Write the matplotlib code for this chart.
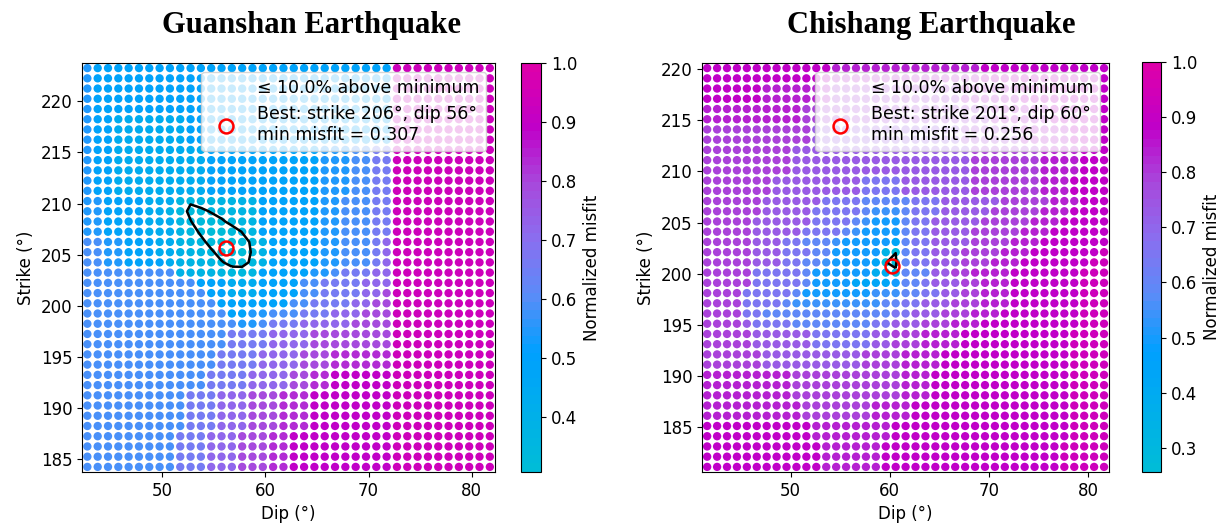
"""Grid-search misfit maps (strike vs dip) for the Guanshan and Chishang earthquakes."""

import numpy as np
import matplotlib

matplotlib.use("Agg")
import matplotlib.pyplot as plt
from matplotlib.colors import LinearSegmentedColormap, Normalize
from matplotlib.lines import Line2D

plt.rcParams["font.family"] = ["DejaVu Sans"]

# colour classes -> normalized misfit value
LEVELS = {
    "Z": 0.258, "Y": 0.284, "X": 0.300,
    "z": 0.312, "y": 0.328, "x": 0.345,
    "c": 0.38, "d": 0.43, "a": 0.49, "b": 0.54, "k": 0.59, "l": 0.655,
    "v": 0.725, "p": 0.785, "o": 0.84, "m": 0.89, "n": 0.93,
}

THRESHOLD = 0.10

# ---- Guanshan: 40 dips x 40 strikes, rows listed from the top strike down
GUANSHAN_DIPS = 42.75 + np.arange(40)
GUANSHAN_STRIKES = 223.25 - np.arange(40)
GUANSHAN_ROWS = [
    "baaaaaaaaa" "aaaaaaaaaa" "aaaaaaaaaa" "nnnnnnnnnn",
    "baaaaaaaaa" "aaaaaaaaaa" "aaaaaaaaaa" "nnnnnnnnnn",
    "baaaaaaaaa" "aaaaaaaaaa" "aaaaaaaaaa" "nnnnnnnnnn",
    "baaaaaaaaa" "aaaaaaaaaa" "aaaaaaaaaa" "nnnnnnnnnn",
    "baaaaaaaaa" "aaaaaaaaaa" "aaaaaaaaaa" "nnnnnnnnnn",
    "baaddddddd" "aaaaaaaaaa" "aaaaaaaaaa" "nnnnnnnnnn",
    "baaddddddd" "aaaaaaaaaa" "aaaaaaaaaa" "nnnnnnnnnn",
    "baaddddddd" "aaaaaaaaaa" "aaaaaaaaaa" "nnnnnnnnnn",
    "baaddddddd" "ddaaaaaaaa" "aaabbbkkll" "nnnnnnnnnn",
    "baaddddddd" "ddaaaaaaaa" "aaabbbkkll" "nnnnnnnnnn",
    "baaddddddd" "ddaaaaaaaa" "aaabbbkkll" "nnnnnnnnnn",
    "baaddddddd" "ddaaaaaaaa" "aaabbbkkll" "nnnnnnnnnn",
    "baaddddddd" "ddaaaaaaaa" "aaabbbkkll" "nnnnnnnnnn",
    "bbaaaadddd" "xccccccaaa" "aaabbkkkll" "nnnnnnnnnn",
    "bbaaaaddcx" "yyyxcccaaa" "aaabbkkkll" "nnnnnnnnnn",
    "bbaaaadddc" "xyyyxccaaa" "aaabbkkkll" "nnnnnnnnnn",
    "bbaaaadddc" "cyyyyxcaaa" "aaabbkkkll" "nnnnnnnnnn",
    "kkbbaaaddd" "ccxzzyxcaa" "aaabbkkklv" "nnnnnnnnnn",
    "kkbbaaaddd" "dccyzyxcaa" "aaabbkkklv" "nnnnnnnnnn",
    "kkbbaaaadd" "adccyyxcaa" "aaabbkkklv" "nnnnnnnnnn",
    "kkkkkkkkkk" "aaadxxcaaa" "aabbklllvv" "nnnnnnnnnn",
    "kkkkkkkkkk" "kaaadddaaa" "akkllllvvv" "nnnnnnnnnn",
    "kkkkkkkkkk" "kkaadddaaa" "akkllllvvp" "nnnnnnnnnn",
    "kkkkkkkkkk" "kkkaaaaaaa" "kkllllvvpp" "nnnnnnnnnn",
    "kkkkkkkkkk" "kkkkaabbkk" "klllvvvppp" "nnnnnnnnnn",
    "kkkkkkkkkk" "kkkkkbbkll" "lvvvvvpppp" "nnnnnnnnnn",
    "kkkkkkkkkk" "kkkkllllvv" "vvpppppppp" "nnnnnnnnnn",
    "kkkkkkkkkk" "kkkkllllvv" "vvpppppppp" "nnnnnnnnnn",
    "kkkkkkkkkk" "kkkllllvvv" "vpppoooooo" "nnnnnnnnnn",
    "kkkkkkkkkk" "kkkllllvvv" "vpppoooooo" "nnnnnnnnnn",
    "kkkkkkkkkk" "kkllllvvvv" "ppoommmmmm" "nnnnnnnnnn",
    "kkkkkkkkkk" "kkllllvvvv" "ppoommmmmm" "nnnnnnnnnn",
    "kkkkkkkkkk" "lllvvvpppo" "oommmmmmmm" "nnnnnnnnnn",
    "kkkkkkkkkk" "lllvvvpppo" "oommmmmmmm" "nnnnnnnnnn",
    "kkkkkkkkkk" "lllvvvpppo" "oommmmmmmm" "nnnnnnnnnn",
    "kkkkkkkkkk" "lllvvvpppo" "oommmmmmmm" "nnnnnnnnnn",
    "kkkkkkkkkl" "llvvvpppoo" "mmmmmmmmmm" "nnnnnnnnnn",
    "kkkkkkkkkl" "llvvvpppoo" "mmmmmmmmmm" "nnnnnnnnnn",
    "kkkkkkkkkl" "llvvvpppoo" "mmmmmmmmmm" "nnnnnnnnnn",
    "kkkkkkkkkl" "llvvvpppoo" "mmmmmmmmmm" "nnnnnnnnnn",
]
# finer values around the minimum (rows 13-20, columns 9-16 of the grid above)
GUANSHAN_MIN_BLOCK_ORIGIN = (13, 9)
GUANSHAN_MIN_BLOCK = [
    [0.362, 0.341, 0.351, 0.360, 0.366, 0.373, 0.380, 0.386],
    [0.350, 0.331, 0.331, 0.340, 0.352, 0.360, 0.368, 0.377],
    [0.357, 0.339, 0.322, 0.324, 0.332, 0.348, 0.360, 0.371],
    [0.368, 0.350, 0.333, 0.318, 0.316, 0.322, 0.339, 0.357],
    [0.377, 0.360, 0.345, 0.329, 0.314, 0.309, 0.326, 0.343],
    [0.382, 0.368, 0.360, 0.342, 0.327, 0.311, 0.321, 0.341],
    [0.386, 0.377, 0.366, 0.357, 0.340, 0.329, 0.329, 0.343],
    [0.393, 0.382, 0.373, 0.366, 0.355, 0.350, 0.349, 0.355],
]
GUANSHAN_BEST = (56.2, 205.7)
GUANSHAN_BEST_LABEL = (206, 56)
GUANSHAN_MIN = 0.307

# ---- Chishang: 41 dips x 40 strikes, rows listed from the top strike down
CHISHANG_DIPS = 41.6 + np.arange(41)
CHISHANG_STRIKES = 220.1 - np.arange(40)
CHISHANG_ROWS = [
    "mmmmmmmmmm" "mmmooooooo" "oooooooomm" "mmmmmmmmmm" "m",
    "mmmmmmmmmm" "mmmooooooo" "oooooooomm" "mmmmmmmmmm" "m",
    "mmmmmmoooo" "oooppppppp" "ppppppoooo" "oommmmmmmm" "m",
    "mmmmmmoooo" "oooppppppp" "ppppppoooo" "oommmmmmmm" "m",
    "oooooooooo" "pppppppppp" "pppppppppo" "ooooommmmm" "m",
    "oooooooooo" "pppppppppp" "pppppppppo" "ooooommmmm" "m",
    "pppppppppp" "pvvvvvvvvv" "vvvvvvpppp" "ppooooommm" "m",
    "pppppppppp" "pvvvvvvvvv" "vvvvvvpppp" "ppooooommm" "m",
    "pppppppppv" "vvvvvvvvvv" "vvvvvvvppp" "ppppoooomm" "m",
    "pppppppppv" "vvvvvvvvvv" "vvvvvvvppp" "ppppoooomm" "m",
    "pppppppppv" "vvvvvvvvvv" "vvvvvvvppp" "ppppoooomm" "m",
    "pppppppvvv" "vvvvvvllll" "vvvvvvvppp" "ppppooommm" "m",
    "pppppppvvv" "vvvvvvllll" "vvvvvvvppp" "ppppooommm" "m",
    "ppppppvvvv" "vvllllkkkk" "klllvvvvvv" "pppppooomm" "m",
    "ppppppvvvv" "vlllllkbbb" "klllvvvvvp" "ppppooommm" "m",
    "pppppvvvvv" "vllllkbaaa" "kllvvvvvpp" "pppooommmm" "m",
    "pppppvvvvv" "llllkbaaaa" "kllvvvvppp" "ppooommmmm" "m",
    "pppppvvvll" "kkkbaaaaad" "kllvvvvppp" "pooommmmmm" "m",
    "pppppvvvll" "lkkaaaaaxY" "kllvvvpppp" "ooommmmmmm" "n",
    "pppppvvvll" "kkbaaaadYZ" "kllvvvpppo" "oommmmmmmn" "n",
    "ppppplllll" "kaaaaaaccX" "kkkvvppooo" "ommmmmmmnn" "n",
    "ppppplllll" "kaaaadddda" "kklvvvppoo" "ommmmmmmnn" "n",
    "pppplllllk" "aaaaaaabbb" "kkllvvppoo" "ommmmmmmnn" "n",
    "ppppllllkb" "bbbbbbbbkk" "llvvvpppoo" "ommmmmmmnn" "n",
    "ppppllkkkk" "kkkkkkkkkl" "lvvvpppooo" "mmmmmmmmnn" "n",
    "ppppvllllk" "kkkkkkkllv" "vvpppooomm" "mmmmmmmmnn" "n",
    "pppppvvvvv" "vllllllvvp" "ppoooommmm" "mmmmmmmnnn" "n",
    "pppppvvvvv" "vllllllvvp" "ppoooommmm" "mmmmmmmnnn" "n",
    "ppppppvvvv" "vvvvvvpppp" "oooommmmmm" "mmmmmmmnnn" "n",
    "ppppppvvvv" "vvvvvvpppp" "oooommmmmm" "mmmmmmmnnn" "n",
    "ooooooooop" "pppppppppp" "ooommmmmmm" "mmmmmmmnnn" "n",
    "ooooooooop" "pppppppppp" "ooommmmmmm" "mmmmmmmnnn" "n",
    "ooooooooop" "pppppppppp" "ooommmmmmm" "mmmmmmmnnn" "n",
    "oooooooooo" "pppppppooo" "ommmmmmmmm" "mmmmmmmnnn" "n",
    "oooooooooo" "pppppppooo" "ommmmmmmmm" "mmmmmmmnnn" "n",
    "mmmmmmmmmm" "moooooooom" "mmmmmmmmmm" "mmmmmmmnnn" "n",
    "mmmmmmmmmm" "moooooooom" "mmmmmmmmmm" "mmmmmmmnnn" "n",
    "mmmmmmmmmm" "mmoooooomm" "mmmmmmmmmm" "mmmmmmnnnn" "n",
    "mmmmmmmmmm" "mmoooooomm" "mmmmmmmmmm" "mmmmmmnnnn" "n",
    "mmmmmmmmmm" "mmoooooomm" "mmmmmmmmmm" "mmmmmmnnnn" "n",
]
CHISHANG_BEST = (60.25, 200.7)
CHISHANG_BEST_LABEL = (201, 60)
CHISHANG_MIN = 0.256

CMAP_COLORS = ["#00BCD8", "#00A0FF", "#5A8CF8", "#8A6EF0", "#A848DC", "#C000C8", "#DD00AA"]
CMAP_STOPS = [0.0, 0.29, 0.43, 0.57, 0.71, 0.85, 1.0]
CMAP = LinearSegmentedColormap.from_list("misfit", list(zip(CMAP_STOPS, CMAP_COLORS)), N=48)

FIG_W, FIG_H = 1230, 524


def px_rect(x0, y0, x1, y1):
    return [x0 / FIG_W, 1 - y1 / FIG_H, (x1 - x0) / FIG_W, (y1 - y0) / FIG_H]


def field(rows, block=None, origin=(0, 0)):
    values = np.array([[LEVELS[ch] for ch in row] for row in rows])
    if block is not None:
        block = np.asarray(block)
        r0, c0 = origin
        values[r0:r0 + block.shape[0], c0:c0 + block.shape[1]] = block
    return values


def draw_panel(fig, *, title, ax_px, cax_px, dips, strikes, values, best, best_label, min_misfit):
    ax = fig.add_axes(px_rect(*ax_px))
    dd, ss = np.meshgrid(dips, strikes)
    norm = Normalize(vmin=min_misfit, vmax=1.0)
    sc = ax.scatter(dd.ravel(), ss.ravel(), c=values.ravel(), cmap=CMAP, norm=norm,
                    s=36, linewidths=0, zorder=1)

    level = min_misfit * (1 + THRESHOLD)
    ax.contour(dips, strikes[::-1], values[::-1], levels=[level], colors="black",
               linewidths=1.8, zorder=3)
    ax.plot(best[0], best[1], "o", mfc="none", mec="red", ms=10, mew=1.8, zorder=4)

    handles = [
        Line2D([], [], color="none"),
        Line2D([], [], ls="none", marker="o", mfc="none", mec="red", ms=10, mew=1.8),
    ]
    labels = [
        f"\u2264 {THRESHOLD * 100:.1f}% above minimum",
        f"Best: strike {best_label[0]}\u00b0, dip {best_label[1]}\u00b0\nmin misfit = {min_misfit:.3f}",
    ]
    ax.legend(handles, labels, loc="upper right", fontsize=12.5)

    step = dips[1] - dips[0]
    ax.set_xlim(dips[0] - step / 2 - 0.02, dips[-1] + step / 2)
    ax.set_ylim(strikes[-1] - 0.5, strikes[0] + 0.5)
    ax.set_xticks([50, 60, 70, 80])
    ax.set_xlabel("Dip (\u00b0)", fontsize=12)
    ax.set_ylabel("Strike (\u00b0)", fontsize=12)
    ax.tick_params(labelsize=12)

    cax = fig.add_axes(px_rect(*cax_px))
    cbar = fig.colorbar(sc, cax=cax)
    cbar.set_label("Normalized misfit", fontsize=12)
    cbar.ax.tick_params(labelsize=12)

    center = (ax_px[0] + cax_px[2]) / 2
    fig.text(center / FIG_W, 1 - 25 / FIG_H, title, ha="center", va="center",
             fontsize=22, fontweight="bold", family="Liberation Serif")


def main():
    fig = plt.figure(figsize=(FIG_W / 100, FIG_H / 100), dpi=100)
    guanshan = field(GUANSHAN_ROWS, GUANSHAN_MIN_BLOCK, GUANSHAN_MIN_BLOCK_ORIGIN)
    chishang = field(CHISHANG_ROWS)
    draw_panel(fig, title="Guanshan Earthquake", ax_px=(82, 63, 495, 472), cax_px=(521, 63, 541, 472),
               dips=GUANSHAN_DIPS, strikes=GUANSHAN_STRIKES, values=guanshan,
               best=GUANSHAN_BEST, best_label=GUANSHAN_BEST_LABEL, min_misfit=GUANSHAN_MIN)
    draw_panel(fig, title="Chishang Earthquake", ax_px=(702, 63, 1109, 472), cax_px=(1142, 62, 1161, 472),
               dips=CHISHANG_DIPS, strikes=CHISHANG_STRIKES, values=chishang,
               best=CHISHANG_BEST, best_label=CHISHANG_BEST_LABEL, min_misfit=CHISHANG_MIN)
    fig.savefig("out.png", dpi=100)


if __name__ == "__main__":
    main()
